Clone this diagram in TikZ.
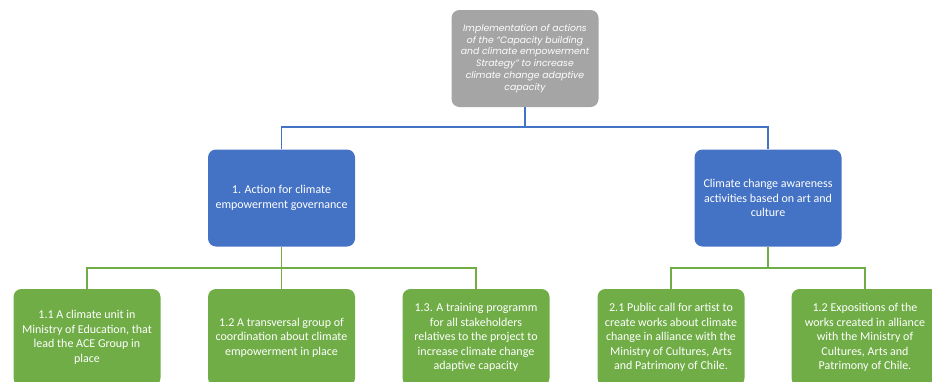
\documentclass[tikz,border=0pt]{standalone}
\usepackage{fontspec}
\setmainfont{Carlito}
\newfontfamily\topfont{Poppins}
\definecolor{cblue}{HTML}{4472C4}
\definecolor{cgreen}{HTML}{70AD47}
\definecolor{cgray}{HTML}{A5A5A5}
\begin{document}
\begin{tikzpicture}[x=1pt,y=-1pt,
  box/.style={rounded corners=8pt,minimum width=147pt,minimum height=97pt,inner sep=0pt,align=center,text=white,font=\fontsize{12}{14.5}\selectfont},
  topbox/.style={box,fill=cgray,font=\topfont\itshape\fontsize{9.3}{11.7}\selectfont},
  bluebox/.style={box,fill=cblue},
  greenbox/.style={box,fill=cgreen},
  bline/.style={draw=cblue,line width=1.8pt},
  gline/.style={draw=cgreen,line width=1.8pt}]
\useasboundingbox (0,0) rectangle (932,381);
\clip (0,0) rectangle (932,381);
\node[topbox] (top) at (525,58.5) {Implementation of actions\\of the “Capacity building\\and climate empowerment\\Strategy” to increase\\climate change adaptive\\capacity};
\node[bluebox] (b1) at (281.5,198) {1. Action for climate\\empowerment governance};
\node[bluebox] (b2) at (768,198) {Climate change awareness\\activities based on art and\\culture};
\node[greenbox] (g1) at (87,337.5) {1.1 A climate unit in\\Ministry of Education, that\\lead the ACE Group in\\place};
\node[greenbox] (g2) at (281.5,337.5) {1.2 A transversal group of\\coordination about climate\\empowerment in place};
\node[greenbox] (g3) at (476,337.5) {1.3. A training programm\\for all stakeholders\\relatives to the project to\\increase climate change\\adaptive capacity};
\node[greenbox] (g4) at (671,337.5) {2.1 Public call for artist to\\create works about climate\\change in alliance with the\\Ministry of Cultures, Arts\\and Patrimony of Chile.};
\node[greenbox] (g5) at (865,337.5) {1.2 Expositions of the\\works created in alliance\\with the Ministry of\\Cultures, Arts and\\Patrimony of Chile.};
\coordinate (jt) at ([yshift=-20pt]top.south);
\draw[bline] (top.south) -- (jt) -| (b1.north);
\draw[bline] (jt) -| (b2.north);
\coordinate (j1) at ([yshift=-21pt]b1.south);
\draw[gline] (b1.south) -- (g2.north);
\draw[gline] (j1) -| (g1.north);
\draw[gline] (j1) -| (g3.north);
\coordinate (j2) at ([yshift=-21pt]b2.south);
\draw[gline] (b2.south) -- (j2);
\draw[gline] (j2) -| (g4.north);
\draw[gline] (j2) -| (g5.north);
\end{tikzpicture}
\end{document}
